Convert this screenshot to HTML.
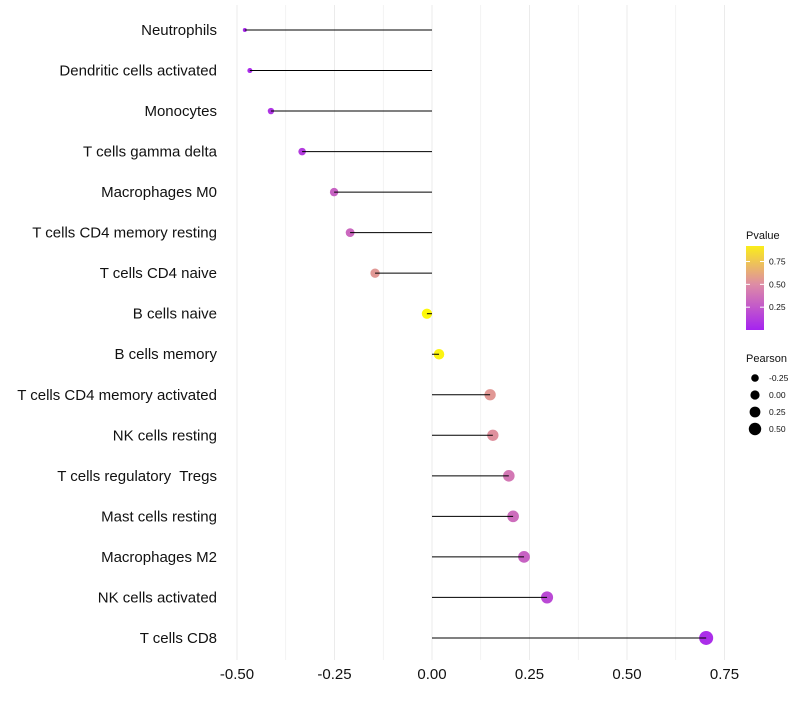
<!DOCTYPE html>
<html><head><meta charset="utf-8"><style>
body{margin:0;background:#fff;}
svg text{font-family:"Liberation Sans",sans-serif;white-space:pre;}
</style></head><body>
<svg id="chart" width="800" height="700"></svg>
<script>
const categories=["Neutrophils","Dendritic cells activated","Monocytes","T cells gamma delta","Macrophages M0","T cells CD4 memory resting","T cells CD4 naive","B cells naive","B cells memory","T cells CD4 memory activated","NK cells resting","T cells regulatory  Tregs","Mast cells resting","Macrophages M2","NK cells activated","T cells CD8"];
const pearson=[-0.48,-0.467,-0.413,-0.333,-0.251,-0.21,-0.146,-0.013,0.018,0.149,0.156,0.197,0.208,0.236,0.295,0.703];
const pvalue=[0.03,0.04,0.08,0.12,0.3,0.33,0.55,0.97,0.95,0.55,0.52,0.4,0.35,0.3,0.18,0.05];
const xTicks=[-0.5,-0.25,0,0.25,0.5,0.75];
const xTickLabels=["-0.50","-0.25","0.00","0.25","0.50","0.75"];
const legendP=[0.25,0.5,0.75];
const legendPearson=[-0.25,0,0.25,0.5];
const legendPearsonLabels=["-0.25","0.00","0.25","0.50"];

const NS="http://www.w3.org/2000/svg";
const svg=document.getElementById('chart');
const x=v=>432+v*390;
const y=i=>30+i*40.53;
const rad=v=>2+5*Math.sqrt(Math.max(0,(v+0.48)/1.18));
function col(p){
  const a=[165,35,240],b=[222,140,165],c=[255,255,0];
  let s,e,t;
  if(p<0.5){s=a;e=b;t=p/0.5;}else{s=b;e=c;t=(p-0.5)/0.5;}
  t=Math.min(1,Math.max(0,t));
  return `rgb(${s.map((q,k)=>Math.round(q+(e[k]-q)*t)).join(',')})`;
}
function el(tag,attrs,txt){const e=document.createElementNS(NS,tag);for(const k in attrs)e.setAttribute(k,attrs[k]);if(txt!=null)e.textContent=txt;svg.appendChild(e);return e;}
for(let v=-0.5;v<=0.751;v+=0.125){
  const g=el('line',{x1:x(v),x2:x(v),y1:5,y2:660,stroke:'#ebebeb','stroke-width':Math.abs((v*4)%1)<0.01?1:0.6});
  
  
}
xTicks.forEach((v,i)=>{
  const t=el('text',{x:x(v),y:679,'text-anchor':'middle','font-size':15,fill:'#111'},xTickLabels[i]);
  
  
});
categories.forEach((c,i)=>{
  const t=el('text',{x:217,y:y(i)+5,'text-anchor':'end','font-size':15,fill:'#111'},c);
  
  
  const p=el('circle',{cx:x(pearson[i]),cy:y(i),r:rad(pearson[i]),fill:col(pvalue[i])});
  
  
  const l=el('line',{x1:x(0),x2:x(pearson[i]),y1:y(i),y2:y(i),stroke:'#000','stroke-width':1});
  
  
});
const defs=el('defs',{});
const lg=document.createElementNS(NS,'linearGradient');
lg.setAttribute('id','pg');lg.setAttribute('x1',0);lg.setAttribute('y1',1);lg.setAttribute('x2',0);lg.setAttribute('y2',0);
[0,0.25,0.5,0.75,0.92].forEach(p=>{const s=document.createElementNS(NS,'stop');s.setAttribute('offset',p/0.92);s.setAttribute('stop-color',col(p));lg.appendChild(s);});
defs.appendChild(lg);
const lt=el('text',{x:746,y:239,'font-size':11,fill:'#111'},'Pvalue');


const bar=el('rect',{x:746,y:246,width:18,height:84,fill:'url(#pg)'});


legendP.forEach(p=>{
  const yy=330-p/0.92*84;
  el('line',{x1:746,x2:750,y1:yy,y2:yy,stroke:'#fff'});
  el('line',{x1:760,x2:764,y1:yy,y2:yy,stroke:'#fff'});
  const t=el('text',{x:769,y:yy+3,'font-size':8.5,fill:'#111'},p.toFixed(2));
  
  
});
const pt=el('text',{x:746,y:362,'font-size':11,fill:'#111'},'Pearson');


legendPearson.forEach((v,k)=>{
  const yy=378+k*17;
  const c=el('circle',{cx:755,cy:yy,r:3.8+k*0.8,fill:'#000'});
  
  
  const t=el('text',{x:769,y:yy+3,'font-size':8.5,fill:'#111'},legendPearsonLabels[k]);
  
  
});
</script>
</body></html>
